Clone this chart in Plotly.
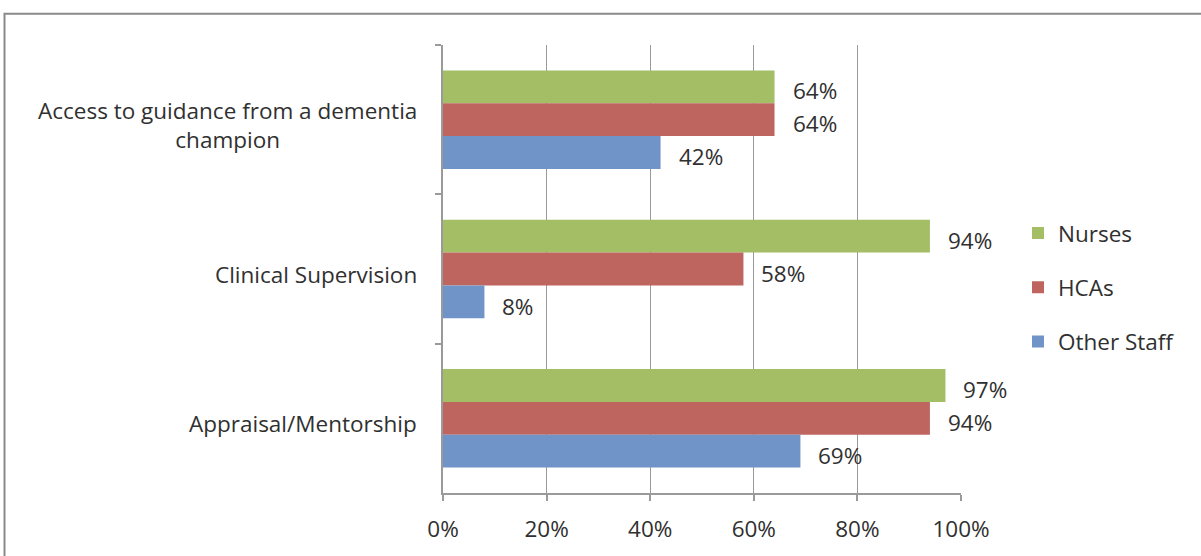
import plotly.graph_objects as go

# Survey categories (top to bottom) and share of staff per group
categories = [
    "Access to guidance from a dementia<br>champion",
    "Clinical Supervision",
    "Appraisal/Mentorship",
]
series_names = ["Nurses", "HCAs", "Other Staff"]
nurses = [0.64, 0.94, 0.97]
hcas = [0.64, 0.58, 0.94]
other_staff = [0.42, 0.08, 0.69]
x_tick_vals = [0, 0.2, 0.4, 0.6, 0.8, 1.0]

series_values = [nurses, hcas, other_staff]
colors = ["#A3BE64", "#BE655F", "#7094C7"]

FONT = "Open Sans"
FSIZE = 22.5
WEIGHT = 500
TEXT_COLOR = "#303030"
GRID = "#9a9a9a"


def text_font():
    return dict(family=FONT, size=FSIZE, color=TEXT_COLOR, weight=WEIGHT)


fig = go.Figure()
for name, vals, col in zip(series_names, series_values, colors):
    fig.add_trace(go.Bar(
        y=categories, x=vals, name=name, orientation="h",
        marker=dict(color=col, line=dict(width=0)),
        legendgroup=name,
        hoverinfo="x+name",
    ))

annotations = []
# value labels to the right of each bar
bar_px = 33
for i, vals in enumerate(series_values):
    for cat, v in zip(categories, vals):
        annotations.append(dict(
            x=v, y=cat, xref="x", yref="y",
            text=f"{round(v * 100)}%",
            showarrow=False, xanchor="left", yanchor="middle",
            xshift=16, yshift=-(i - 1) * bar_px - 4,
            font=text_font(),
        ))
# category labels, centred line by line
for cat in categories:
    annotations.append(dict(
        x=0, y=cat, xref="paper", yref="y",
        text=cat, showarrow=False, xanchor="right", yanchor="middle",
        align="center", xshift=-24, yshift=-5,
        font=text_font(),
    ))

fig.update_layout(
    width=1201, height=556,
    margin=dict(l=443, r=240, t=45, b=60),
    paper_bgcolor="white", plot_bgcolor="white",
    barmode="group", bargap=0.34, bargroupgap=0,
    font=text_font(),
    showlegend=True,
    legend=dict(
        x=1.11, y=(496 - 289) / 451, xanchor="left", yanchor="middle",
        traceorder="grouped", tracegroupgap=22,
        font=text_font(),
        bgcolor="rgba(0,0,0,0)",
    ),
    xaxis=dict(
        range=[0, 1], tickvals=x_tick_vals, tickformat=".0%",
        showgrid=True, gridcolor=GRID, gridwidth=1,
        showline=True, linecolor=GRID, linewidth=1.5,
        ticks="outside", ticklen=6, tickcolor=GRID, tickwidth=1.5,
        zeroline=False, ticklabelstandoff=9,
        tickfont=text_font(),
    ),
    yaxis=dict(
        type="category", autorange="reversed",
        tickson="boundaries", ticks="outside", ticklen=6,
        tickcolor=GRID, tickwidth=1.5,
        showline=True, linecolor=GRID, linewidth=1.5,
        showgrid=False, showticklabels=False,
    ),
    annotations=annotations,
    shapes=[dict(
        type="rect", xref="paper", yref="paper",
        x0=(4.5 - 443) / 518, x1=(1210 - 443) / 518,
        y0=(496 - 570) / 451, y1=1 + (45 - 13.5) / 451,
        line=dict(color="#8a8a8a", width=2), fillcolor="rgba(0,0,0,0)",
        layer="below",
    )],
)

fig.write_html("out.html")
